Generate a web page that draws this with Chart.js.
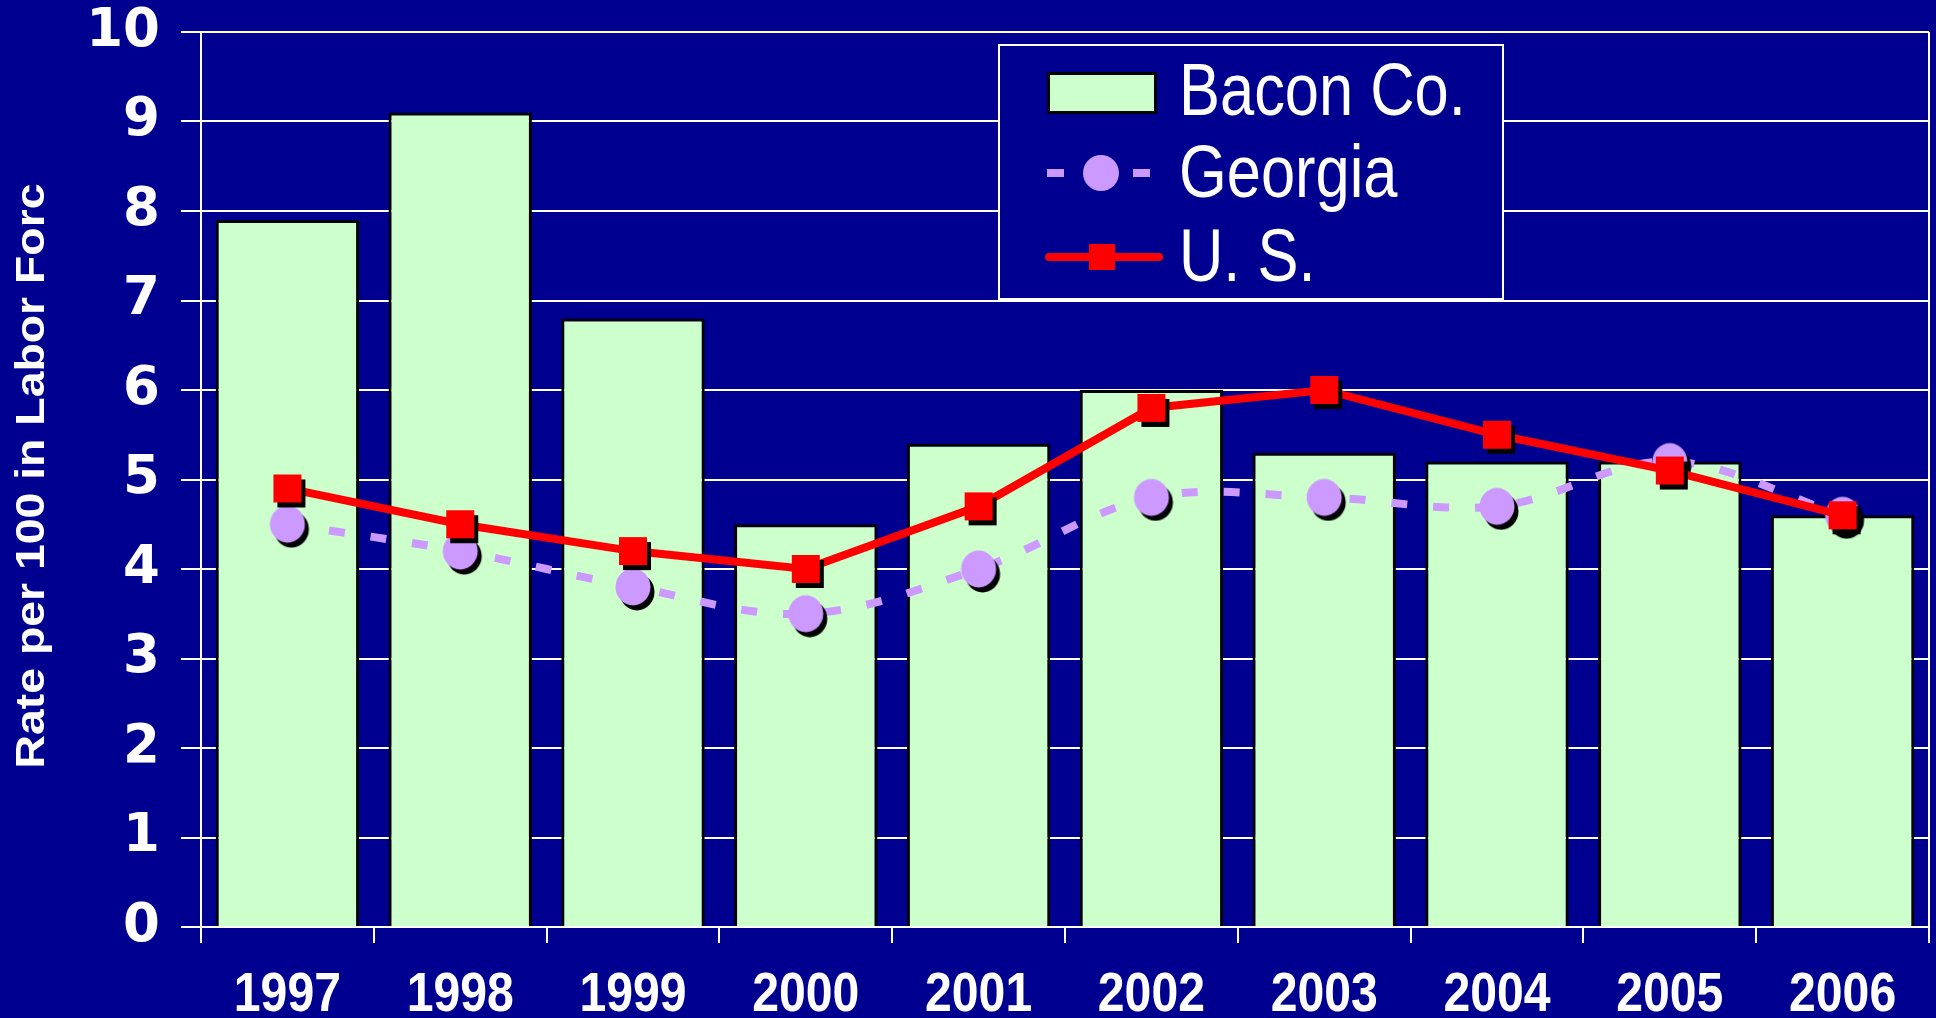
<!DOCTYPE html>
<html>
<head>
<meta charset="utf-8">
<title>Bacon Co. - Rate per 100 in Labor Force</title>
<script src="https://cdn.jsdelivr.net/npm/chart.js@4.4.1/dist/chart.umd.min.js"></script>
<style>
  html, body { margin: 0; padding: 0; background: #000090; }
  #wrap { position: relative; width: 1936px; height: 1018px; overflow: hidden; }
  #chart { position: absolute; left: 0; top: 0; }
  .legend-box { position: absolute; left: 998px; top: 44px; width: 506px; height: 256px;
    box-sizing: border-box; border: 2px solid #fff; background: #000090; }
  .legend-text { position: absolute; left: 1179px; color: #fff; white-space: nowrap;
    font-family: "Liberation Sans", Arial, sans-serif;
    font-size: 74px; line-height: 1; transform: scaleX(0.83); transform-origin: 0 0; }
  .swatch { position: absolute; left: 1047px; top: 72px; width: 110px; height: 42px;
    box-sizing: border-box; background: #ccffcc; border: 3px solid #000; }
  .dash { position: absolute; top: 169px; width: 17px; height: 8px; background: #cc99ff; }
  .dot { position: absolute; left: 1083px; top: 155px; width: 36px; height: 36px; border-radius: 50%; background: #cc99ff; }
  .redline { position: absolute; left: 1045px; top: 253px; width: 118px; height: 8px; border-radius: 4px; background: #ff0000; }
  .redsq { position: absolute; left: 1089px; top: 244px; width: 26px; height: 26px; background: #ff0000; }
</style>
</head>
<body>
<div id="wrap">
  <canvas id="chart" width="1936" height="1018"></canvas>
  <div class="legend-box"></div>
  <div class="swatch"></div>
  <div class="legend-text" style="top:53px">Bacon Co.</div>
  <div class="dash" style="left:1047px"></div>
  <div class="dot"></div>
  <div class="dash" style="left:1133px"></div>
  <div class="legend-text" style="top:135px">Georgia</div>
  <div class="redline"></div>
  <div class="redsq"></div>
  <div class="legend-text" style="top:219px">U. S.</div>
</div>
<script>
const years = ["1997", "1998", "1999", "2000", "2001", "2002", "2003", "2004", "2005", "2006"]
const baconCo = [7.9, 9.1, 6.8, 4.5, 5.4, 6.0, 5.3, 5.2, 5.2, 4.6]
const georgia = [4.5, 4.2, 3.8, 3.5, 4.0, 4.8, 4.8, 4.7, 5.2, 4.6]
const unitedStates = [4.9, 4.5, 4.2, 4.0, 4.7, 5.8, 6.0, 5.5, 5.1, 4.6]
const yTicks = [0, 1, 2, 3, 4, 5, 6, 7, 8, 9, 10]
const yTitle = "Rate per 100 in Labor Forc"

const NAVY = "#000090"
const SANS = '"Liberation Sans", Arial, sans-serif'

// marker avec ombre portée noire, dessiné une fois dans un petit canvas
function markerImage(shape, size, color) {
  const c = document.createElement("canvas")
  const half = Math.ceil(size / 2) + 6
  c.width = c.height = half * 2
  const ctx = c.getContext("2d")
  const draw = (x, y, fill) => {
    ctx.fillStyle = fill
    ctx.beginPath()
    if (shape === "circle") ctx.ellipse(x, y, size / 2, size / 2 + 1, 0, 0, Math.PI * 2)
    else ctx.rect(x - size / 2, y - size / 2, size, size)
    ctx.fill()
  }
  draw(half + 4, half + 5, "#000")
  draw(half, half, color)
  return c
}

const chartDecor = {
  id: "chartDecor",
  beforeDraw(chart) {
    const ctx = chart.ctx
    ctx.save()
    ctx.fillStyle = NAVY
    ctx.fillRect(0, 0, chart.width, chart.height)
    ctx.restore()
  },
  beforeDatasetsDraw(chart) {
    const { ctx, chartArea } = chart
    ctx.save()
    ctx.strokeStyle = "#fff"
    ctx.lineWidth = 2
    ctx.beginPath()
    ctx.moveTo(chartArea.right, chartArea.top)
    ctx.lineTo(chartArea.right, chartArea.bottom)
    ctx.stroke()
    ctx.restore()
  },
  afterDraw(chart) {
    const ctx = chart.ctx
    const xScale = chart.scales.x

    // libellés des années, police condensée
    ctx.save()
    ctx.font = "bold 56px " + SANS
    ctx.fillStyle = "#fff"
    ctx.textAlign = "center"
    ctx.textBaseline = "middle"
    years.forEach((label, i) => {
      ctx.save()
      ctx.translate(xScale.getPixelForTick(i), 996)
      ctx.scale(0.86, 1)
      ctx.fillText(label, 0, 0)
      ctx.restore()
    })
    ctx.restore()

    // titre vertical condensé
    ctx.save()
    ctx.font = "bold 40px " + SANS
    ctx.fillStyle = "#fff"
    ctx.textAlign = "center"
    ctx.textBaseline = "middle"
    const w = ctx.measureText(yTitle).width
    ctx.translate(33, 476)
    ctx.rotate(-Math.PI / 2)
    ctx.scale(585 / w, 1)
    ctx.fillText(yTitle, 0, 0)
    ctx.restore()
  },
}

new Chart(document.getElementById("chart"), {
  type: "bar",
  data: {
    labels: years,
    datasets: [
      {
        type: "line",
        label: "U. S.",
        data: unitedStates,
        borderColor: "#ff0000",
        borderWidth: 8,
        pointStyle: markerImage("rect", 28, "#ff0000"),
        pointRadius: 14,
        tension: 0,
        order: 1,
      },
      {
        type: "line",
        label: "Georgia",
        data: georgia,
        borderColor: "#cc99ff",
        borderWidth: 8,
        borderDash: [16, 26],
        pointStyle: markerImage("circle", 35, "#cc99ff"),
        pointRadius: 17,
        tension: 0.35,
        order: 2,
      },
      {
        label: "Bacon Co.",
        data: baconCo,
        backgroundColor: "#ccffcc",
        borderColor: "#000",
        borderWidth: 3,
        barPercentage: 0.83,
        categoryPercentage: 1,
        order: 3,
      },
    ],
  },
  options: {
    responsive: false,
    devicePixelRatio: 1,
    animation: false,
    events: [],
    layout: { autoPadding: false, padding: { top: 32, right: 7, bottom: 0, left: 0 } },
    plugins: {
      legend: { display: false },
      tooltip: { enabled: false },
    },
    scales: {
      x: {
        grid: { drawOnChartArea: false, color: "#fff", lineWidth: 2, tickLength: 16 },
        border: { color: "#fff", width: 2 },
        ticks: { display: false },
        afterFit(scale) { scale.height = 91 },
      },
      y: {
        min: 0,
        max: 10,
        afterBuildTicks(scale) { scale.ticks = yTicks.map((v) => ({ value: v })) },
        grid: { color: "#fff", lineWidth: 2, tickLength: 20 },
        border: { color: "#fff", width: 2 },
        ticks: {
          color: "#fff",
          padding: 21,
          font: { family: '"DejaVu Sans", sans-serif', size: 53, weight: "bold" },
        },
        afterFit(scale) {
          scale.width = 201
          scale.paddingTop = 0
          scale.paddingBottom = 0
        },
      },
    },
  },
  plugins: [chartDecor],
})
</script>
</body>
</html>
